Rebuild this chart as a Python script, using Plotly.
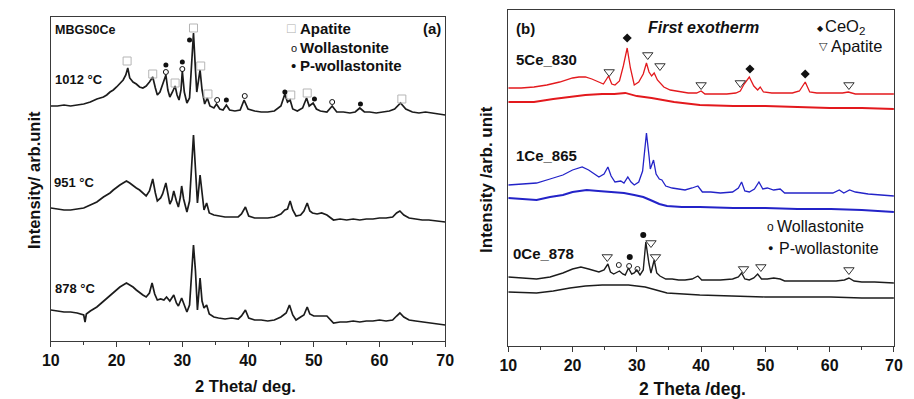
import plotly.graph_objects as go

W, H = 914, 399
FONT = "Liberation Sans, Arial, sans-serif"

# ---------------- panel (a): MBGS0Ce patterns (2-theta, intensity) ----------------
mbgs_1012 = [(10, 235), (11, 235), (12, 236), (13, 235), (14, 236), (15, 237), (16, 239), (17, 242),
             (18, 244), (18.5, 246), (19, 249), (19.5, 251), (20, 254), (20.5, 257), (21, 261),
             (21.4, 266), (21.7, 273), (22.0, 263), (22.5, 259), (23, 257), (23.5, 254), (24, 253),
             (24.5, 255), (25, 259), (25.5, 264), (25.9, 253), (26.2, 246), (26.6, 249), (27, 256),
             (27.5, 266), (27.8, 251), (28.1, 244), (28.5, 249), (28.9, 255), (29.2, 246), (29.5, 241),
             (29.8, 251), (30.0, 270), (30.3, 249), (30.7, 238), (31.1, 243), (31.4, 271), (31.7, 308),
             (32.0, 271), (32.2, 249), (32.7, 271), (33.0, 251), (33.4, 237), (33.8, 243), (34.2, 235),
             (34.8, 233), (35.2, 237), (35.7, 232), (36.2, 231), (36.7, 236), (37.2, 231), (38, 230),
             (38.8, 231), (39.4, 241), (40, 232), (41, 230), (42, 229), (43, 229), (44, 230), (45, 235),
             (45.6, 247), (46.0, 239), (46.4, 241), (46.8, 232), (47.5, 230), (48.3, 233), (48.9, 243),
             (49.3, 235), (49.9, 238), (50.4, 232), (51, 230), (52, 229), (52.8, 235), (53.5, 229),
             (54.5, 229), (55.5, 228), (56.3, 229), (57.0, 233), (57.7, 229), (58.5, 229), (59.5, 228),
             (60.5, 229), (61.5, 230), (62.3, 232), (63.2, 238), (64, 232), (65, 229), (66, 228),
             (67, 229), (68, 228), (69, 227), (70, 226)]

mbgs_951 = [(10, 133), (11, 132), (12, 131), (13, 131), (14, 132), (15, 133), (16, 136), (17, 139),
            (18, 144), (19, 148), (19.5, 151), (20, 154), (20.5, 156), (21, 158), (21.5, 160), (22, 158),
            (22.5, 155), (23, 153), (23.5, 151), (24, 148), (24.5, 145), (25, 150), (25.5, 162),
            (25.9, 148), (26.2, 140), (26.7, 143), (27, 147), (27.5, 158), (27.8, 146), (28.1, 137),
            (28.4, 141), (28.7, 150), (29.1, 140), (29.4, 134), (29.7, 144), (29.9, 155), (30.2, 142),
            (30.7, 129), (31.1, 140), (31.4, 175), (31.7, 206), (32.0, 172), (32.3, 138), (32.7, 166),
            (33.0, 145), (33.3, 131), (33.7, 138), (34.1, 128), (34.8, 126), (35.5, 125), (36.5, 124),
            (37.5, 124), (38.5, 124), (39.0, 127), (39.6, 134), (40.1, 125), (41, 123), (42, 123),
            (43, 123), (44, 124), (45, 127), (45.6, 131), (46.0, 132), (46.4, 140), (46.8, 131),
            (47.3, 125), (48.0, 126), (48.5, 130), (49.0, 138), (49.4, 130), (49.8, 128), (50.5, 127),
            (51.2, 128), (52, 126), (53, 121), (54, 122), (55, 121), (56, 122), (57, 121), (58, 122),
            (59, 122), (60, 123), (61, 123), (62, 124), (62.6, 128), (63.1, 130), (63.7, 126),
            (64.5, 123), (65.5, 122), (66.5, 121), (67.5, 121), (68.5, 120), (70, 119)]

mbgs_878 = [(10, 31), (11, 30), (12, 29), (13, 29), (14, 28), (15, 26), (15.2, 19), (15.4, 27), (16, 30),
            (17, 34), (18, 40), (19, 45), (19.5, 48), (20, 51), (20.5, 54), (21, 56), (21.5, 58),
            (22, 56), (22.5, 54), (23, 51), (23.5, 48), (24, 46), (24.5, 44), (25, 48), (25.4, 58),
            (25.8, 47), (26.2, 41), (26.7, 42), (27.2, 41), (27.6, 44), (28.1, 40), (28.7, 46),
            (29.1, 38), (29.4, 35), (29.9, 43), (30.3, 36), (30.7, 29), (31.1, 36), (31.4, 70),
            (31.7, 96), (32.0, 70), (32.3, 31), (32.7, 63), (33.0, 40), (33.3, 33), (33.7, 36),
            (34.1, 27), (34.8, 24), (35.5, 23), (36.5, 22), (37.5, 23), (38.5, 22), (39.0, 25),
            (39.6, 31), (40.1, 23), (41, 21), (42, 21), (43, 20), (44, 21), (45, 24), (45.8, 28),
            (46.3, 36), (46.8, 26), (47.3, 21), (48.0, 24), (48.5, 26), (49.0, 34), (49.4, 27),
            (50, 25), (51, 25), (52, 25), (53, 18), (54, 19), (55, 19), (56, 20), (57, 19), (58, 20),
            (59, 20), (60, 21), (61, 20), (62, 21), (62.6, 25), (63.1, 28), (63.7, 24), (64.5, 21),
            (65.5, 20), (66.5, 19), (67.5, 18), (68.5, 17), (70, 16)]

# phase marks above the 1012 °C pattern
a_apatite = [(21.6, 280), (25.5, 267), (28.9, 258), (31.7, 313), (32.8, 275), (33.9, 247),
             (46.5, 246), (49.0, 248), (63.4, 242)]
a_wollastonite = [(27.5, 269), (30.0, 272), (35.3, 241), (39.5, 245), (52.8, 239)]
a_pwollastonite = [(27.5, 276), (30.0, 279), (31.1, 301), (36.7, 241), (45.6, 249), (50.1, 242),
                   (57.1, 237)]

# ---------------- panel (b): first-exotherm patterns ----------------
ce5_830 = [(10, 258), (12, 258), (14, 259), (16, 261), (18, 264), (20, 268), (21, 269), (22, 269),
           (23, 267), (24, 264), (24.8, 262), (25.6, 270), (26.1, 262), (26.6, 261), (27.3, 265),
           (27.9, 280), (28.5, 298), (29.0, 278), (29.6, 261), (30.3, 264), (31.0, 272), (31.5, 283),
           (31.9, 274), (32.3, 270), (32.7, 273), (33.2, 266), (34.2, 259), (35.2, 256), (36.7, 254),
           (38, 253), (39.3, 253), (40, 255), (40.6, 252), (42, 252), (44, 252), (45.4, 253),
           (46.1, 255), (46.7, 262), (47.5, 269), (48.2, 260), (48.8, 256), (49.2, 259), (49.7, 254),
           (51, 253), (53, 253), (54.2, 253), (55.3, 255), (56.2, 264), (56.9, 254), (58, 253),
           (60, 253), (62, 253), (62.9, 254), (64, 252), (66, 252), (68, 252), (70, 252)]
ce5_830_base = [(10, 244), (14, 244), (17, 247), (19.6, 249), (22, 251), (24.6, 252), (26.5, 252),
                (28.2, 253), (30, 250), (32.3, 248), (34, 246), (35.8, 244), (39.8, 241), (45, 240),
                (50, 240), (54, 239), (60, 238), (65, 238), (70, 237)]

ce1_865 = [(10, 161), (12, 162), (14.4, 163), (16.5, 167), (18.5, 171), (20, 176), (21.5, 179),
           (22.5, 176), (23.5, 172), (24.1, 169), (24.9, 172), (25.5, 179), (26.0, 170), (26.6, 164),
           (27.5, 165), (28.0, 163), (28.6, 169), (29.1, 164), (29.6, 161), (30.3, 164), (30.9, 175),
           (31.5, 213), (31.9, 190), (32.1, 177), (32.6, 186), (33.0, 172), (33.5, 167), (33.9, 166),
           (34.5, 160), (35.5, 158), (36.5, 157), (37.5, 156), (38.6, 158), (39.5, 160), (40.2, 154),
           (41.5, 154), (43, 153), (44.9, 154), (45.8, 158), (46.3, 164), (46.8, 155), (47.5, 154),
           (48.3, 157), (49.0, 164), (49.6, 157), (50.3, 158), (51.3, 156), (52.3, 157), (53, 153),
           (55, 153), (57, 153), (59, 153), (60.5, 153), (61.5, 156), (62.2, 153), (63.1, 156),
           (64, 154), (66, 152), (68, 151), (70, 150)]
ce1_865_base = [(10, 148), (12, 147), (14.4, 146), (16.5, 149), (18.5, 151), (20, 154), (22.2, 156),
                (24, 155), (26.2, 154), (28, 153), (29.6, 151), (31, 149), (32.1, 146), (33.5, 142),
                (34.7, 140), (37, 139), (39.8, 139), (45, 138), (50, 138), (55, 137), (60.2, 137),
                (65, 136), (70, 134)]

ce0_878 = [(10, 69), (12, 68), (14.4, 67), (16.5, 69), (18.5, 73), (20, 77), (21.3, 79), (22.5, 77),
           (23.5, 75), (24.1, 74), (24.9, 76), (25.5, 82), (25.9, 74), (26.4, 72), (27.3, 75),
           (27.8, 72), (28.2, 71), (28.7, 78), (29.2, 72), (29.6, 73), (30.0, 76), (30.5, 71),
           (31.0, 76), (31.4, 104), (31.9, 82), (32.2, 73), (32.7, 86), (33.1, 73), (33.6, 70),
           (34.5, 67), (35.5, 67), (36.5, 66), (37.5, 66), (38.6, 67), (39.5, 70), (40.1, 66),
           (41.5, 66), (43, 66), (44.9, 67), (45.8, 69), (46.3, 73), (46.8, 67), (47.5, 66),
           (48.2, 68), (48.8, 72), (49.4, 67), (50.3, 67), (51.3, 68), (52.3, 67), (53, 65), (55, 65),
           (57, 65), (59, 65), (61, 65), (62.3, 66), (63, 68), (63.8, 65), (65, 64), (67, 64), (70, 63)]
ce0_878_base = [(10, 54), (14.4, 53), (17, 55), (19.6, 58), (22, 60), (24.6, 61), (28.7, 61), (30, 60),
                (31.3, 59), (33, 56), (34.7, 53), (39.8, 51), (45, 50), (50, 49), (55, 49), (60.2, 49),
                (65, 48), (70, 48)]

b_ceo2 = [(28.5, 308), (47.6, 277), (56.2, 272)]
b_apatite = [(25.7, 274), (31.7, 291), (33.6, 280), (40.0, 261), (46.1, 263), (63.0, 261),
             (25.4, 89), (32.2, 103), (32.9, 89), (46.6, 77), (49.3, 79), (63.0, 76)]
b_wollastonite = [(27.2, 81), (28.8, 80), (30.1, 77)]
b_pwollastonite = [(28.9, 89), (31.0, 111)]

X_TICKS = [10, 20, 30, 40, 50, 60, 70]


def cols(pairs):
    return [p[0] for p in pairs], [p[1] for p in pairs]


fig = go.Figure()


def pattern(pairs, axes, color, width):
    x, y = cols(pairs)
    xa, ya = axes
    fig.add_trace(go.Scatter(x=x, y=y, mode="lines", xaxis=xa, yaxis=ya, showlegend=False,
                             line=dict(color=color, width=width)))


def marks(pairs, axes, symbol, size, color, lw=1.0):
    x, y = cols(pairs)
    xa, ya = axes
    fig.add_trace(go.Scatter(x=x, y=y, mode="markers", xaxis=xa, yaxis=ya, showlegend=False,
                             marker=dict(symbol=symbol, size=size, color=color,
                                         line=dict(width=lw, color=color))))


A = ("x", "y")
B = ("x2", "y2")

for tr in (mbgs_1012, mbgs_951, mbgs_878):
    pattern(tr, A, "#1c1c1c", 1.7)
marks(a_apatite, A, "square-open", 8, "#b5b5b5")
marks(a_wollastonite, A, "circle-open", 5, "#111")
marks(a_pwollastonite, A, "circle", 5, "#111", 0)

RED, BLUE, BLACK = "#e3191d", "#2323c8", "#1c1c1c"
pattern(ce5_830, B, RED, 1.3)
pattern(ce5_830_base, B, RED, 1.8)
pattern(ce1_865, B, BLUE, 1.3)
pattern(ce1_865_base, B, BLUE, 2.2)
pattern(ce0_878, B, BLACK, 1.4)
pattern(ce0_878_base, B, BLACK, 1.4)
marks(b_apatite, B, "triangle-down-open", 9, "#333")
marks(b_ceo2, B, "diamond", 7, "#111", 0)
marks(b_wollastonite, B, "circle-open", 5, "#222")
marks(b_pwollastonite, B, "circle", 6, "#111", 0)

FRAME = "#3a3a3a"


def xax(domain, anchor):
    return dict(domain=domain, anchor=anchor, range=[10, 70], tickvals=X_TICKS,
                ticks="outside", ticklen=5, tickwidth=1.2, tickcolor=FRAME,
                minor=dict(dtick=5, tick0=10, ticks="outside", ticklen=3, tickwidth=1.2, tickcolor=FRAME),
                showline=True, linecolor=FRAME, linewidth=1.4, mirror=True, showgrid=False,
                zeroline=False, tickfont=dict(family=FONT, size=16, color="#111", weight="bold"))


def yax(domain, anchor, top):
    return dict(domain=domain, anchor=anchor, range=[0, top], showticklabels=False, ticks="",
                showline=True, linecolor=FRAME, linewidth=1.4, mirror=True, showgrid=False,
                zeroline=False)


def note(text, px, py, size, xanchor="left", bold=False, italic=False, color="#111", angle=0):
    if bold:
        text = "<b>" + text + "</b>"
    if italic:
        text = "<i>" + text + "</i>"
    return dict(text=text, x=px / W, y=1 - py / H, xref="paper", yref="paper", xanchor=xanchor,
                yanchor="middle", showarrow=False, textangle=angle, borderpad=0,
                font=dict(family=FONT, size=size, color=color))


annotations = [
    # panel (a)
    note("MBGS0Ce", 46, 30, 12.5, bold=True),
    note("1012 °C", 45.5, 79, 13, bold=True),
    note("951 °C", 45, 182, 13, bold=True),
    note("878 °C", 46, 288, 13, bold=True),
    note("□", 288, 28.5, 14, xanchor="center", color="#b0b0b0"),
    note("Apatite", 296, 28.5, 15, bold=True),
    note("o", 290.5, 48, 11, xanchor="center"),
    note("Wollastonite", 296, 47.5, 15, bold=True),
    note("•", 290.5, 65.5, 15, xanchor="center"),
    note("P-wollastonite", 296, 65.5, 15, bold=True),
    note("(a)", 442, 28, 15, xanchor="right", bold=True),
    note("Intensity/ arb.unit", 25.5, 180, 16.5, xanchor="center", bold=True, angle=-90),
    note("2 Theta/ deg.", 241, 386, 16.5, xanchor="center", bold=True),
    # panel (b)
    note("(b)", 516, 29, 15, bold=True),
    note("First exotherm", 708.5, 27, 16, xanchor="center", bold=True, italic=True),
    note("◆", 828, 29, 8, xanchor="center"),
    note("CeO<sub>2</sub>", 831.5, 27, 16.5),
    note("▽", 831, 46, 11, xanchor="center"),
    note("Apatite", 837, 46.5, 16.5),
    note("o", 776.5, 227, 12, xanchor="center"),
    note("Wollastonite", 782, 226.5, 16),
    note("●", 776.5, 248, 9, xanchor="center"),
    note("P-wollastonite", 784.5, 248, 16),
    note("5Ce_830", 516.5, 59.5, 15, bold=True),
    note("1Ce_865", 516.5, 155, 15, bold=True),
    note("0Ce_878", 513.5, 253.5, 15, bold=True),
    note("Intensity /arb. unit", 486.5, 179, 17, xanchor="center", bold=True, angle=-90),
    note("2 Theta /deg.", 697.5, 389, 17.5, xanchor="center", bold=True),
]

fig.update_layout(
    width=W, height=H, margin=dict(l=0, r=0, t=0, b=0),
    paper_bgcolor="white", plot_bgcolor="white", showlegend=False,
    xaxis=xax([42.7 / W, 445 / W], "y"),
    yaxis=yax([1 - 341 / H, 1 - 17 / H], "x", 324),
    xaxis2=xax([509.3 / W, 902.7 / W], "y2"),
    yaxis2=yax([1 - 346 / H, 1 - 9.5 / H], "x2", 336.5),
    annotations=annotations,
)

fig.write_html("out.html")
